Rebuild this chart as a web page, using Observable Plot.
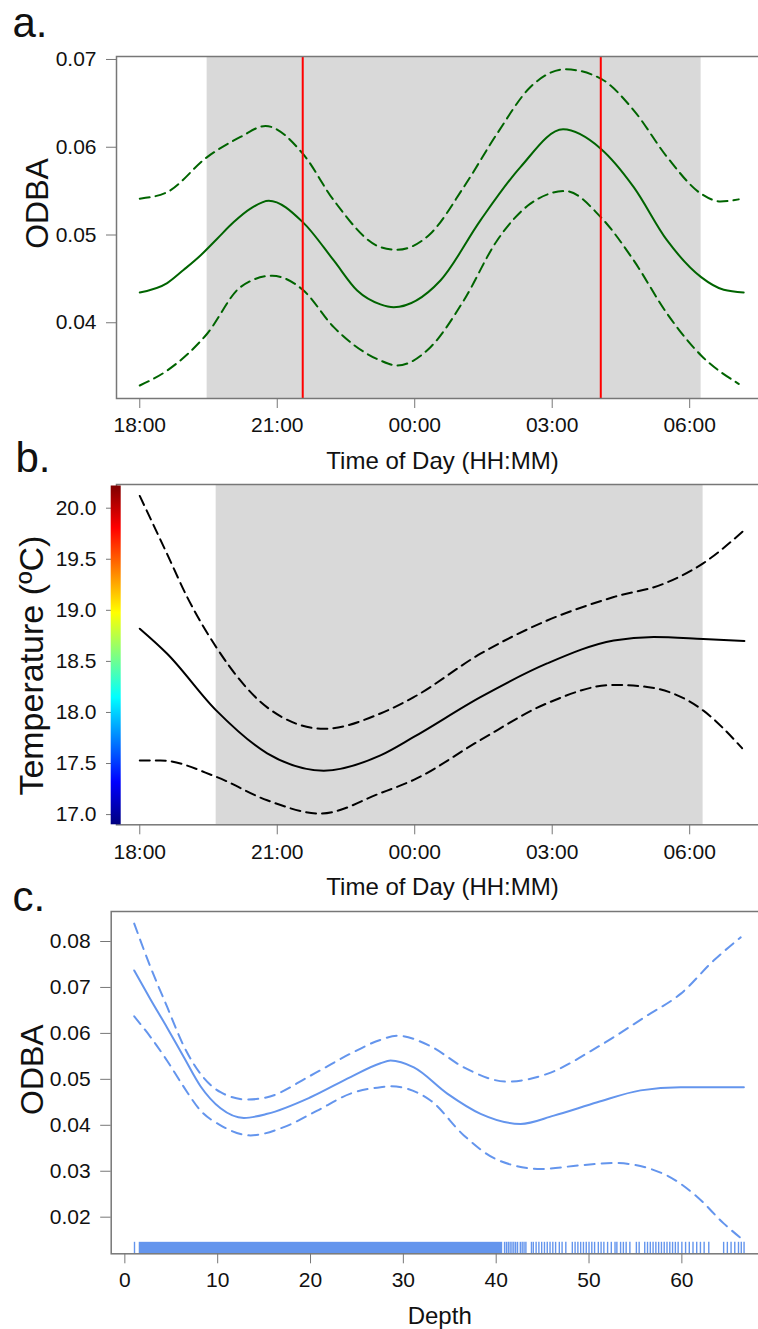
<!DOCTYPE html>
<html>
<head>
<meta charset="utf-8">
<script src="https://cdn.jsdelivr.net/npm/d3@7"></script>
<script src="https://cdn.jsdelivr.net/npm/@observablehq/plot@0.6"></script>
<style>
  html, body { margin: 0; padding: 0; background: #fff; overflow: hidden; }
  #wrap { position: relative; width: 758px; height: 1329px; overflow: hidden; }
  #wrap svg { position: absolute; left: 0; max-width: none !important; }
  svg [aria-label="x-axis tick"], svg [aria-label="y-axis tick"] { stroke: #777; }
  svg .tick line { stroke: #777; }
</style>
</head>
<body>
<div id="wrap"></div>
<script>
// ---------- shared tick labels ----------
const hourTicks = [0, 3, 6, 9, 12];                      // hours after 18:00
const hourLabels = ["18:00", "21:00", "00:00", "03:00", "06:00"];

// ---------- panel a: ODBA vs time of day ----------
const aFitHour = [0, 0.598, 0.96, 1.324, 1.689, 2.051, 2.415, 2.815, 3.557, 4.233, 4.744, 5.252, 5.542, 6.561, 7.434, 8.307, 9.238, 10.059, 10.779, 11.508, 12.25, 12.743, 13.179];
const aFitODBA = [0.04345, 0.04452, 0.04604, 0.04767, 0.04958, 0.05147, 0.053, 0.05391, 0.05147, 0.0471, 0.04368, 0.0421, 0.04178, 0.04482, 0.05167, 0.05774, 0.06204, 0.05984, 0.05546, 0.04938, 0.0452, 0.04376, 0.04345];
const aUpHour = [0, 0.598, 1.47, 2.197, 2.743, 3.557, 4.233, 5.252, 5.616, 6.343, 7.07, 7.798, 8.525, 9.289, 10.059, 10.779, 11.508, 12.25, 12.671, 13.07];
const aUpODBA = [0.05414, 0.05489, 0.05888, 0.06117, 0.06242, 0.05927, 0.05395, 0.04862, 0.04832, 0.05015, 0.05546, 0.06155, 0.06686, 0.06888, 0.06782, 0.06421, 0.05888, 0.0547, 0.05383, 0.05406];
const aLoHour = [0, 0.598, 1.47, 2.197, 2.889, 3.557, 4.233, 5.252, 5.616, 6.343, 7.07, 7.798, 8.525, 9.289, 10.059, 10.779, 11.508, 12.25, 13.07];
const aLoODBA = [0.03285, 0.03456, 0.03875, 0.04406, 0.04536, 0.04376, 0.0395, 0.0357, 0.03513, 0.03722, 0.04254, 0.04938, 0.05357, 0.05501, 0.05204, 0.0471, 0.04103, 0.03627, 0.03304];
const aNight = [1.47, 12.25];
const aMarkers = [3.556, 10.06];
const aYTicks = [0.04, 0.05, 0.06, 0.07];

// ---------- panel b: temperature vs time of day ----------
const bFitHour = [0, 0.598, 1.667, 2.78, 4.015, 5.252, 5.979, 7.434, 8.889, 10.343, 11.215, 12.293, 13.194];
const bFitTemp = [18.82, 18.575, 18.02, 17.60, 17.43, 17.58, 17.76, 18.15, 18.48, 18.705, 18.74, 18.72, 18.70];
const bUpHour = [0, 0.598, 1.034, 1.667, 2.78, 4.015, 5.252, 5.979, 7.434, 8.889, 10.343, 11.434, 12.293, 13.179];
const bUpTemp = [20.12, 19.55, 19.13, 18.64, 18.05, 17.84, 17.99, 18.15, 18.575, 18.90, 19.13, 19.26, 19.46, 19.78];
const bLoHour = [0, 0.452, 1.667, 2.78, 3.943, 5.252, 5.979, 7.434, 8.889, 10.343, 11.071, 12.293, 13.144];
const bLoTemp = [17.53, 17.53, 17.37, 17.14, 17.01, 17.21, 17.34, 17.73, 18.09, 18.27, 18.25, 18.02, 17.65];
const bNight = [1.667, 12.293];
const bYTicks = [17.0, 17.5, 18.0, 18.5, 19.0, 19.5, 20.0];
const jetStops = [[0, "#00007F"], [0.125, "#0000FF"], [0.375, "#00FFFF"], [0.625, "#FFFF00"], [0.875, "#FF0000"], [1, "#7F0000"]];

// ---------- panel c: ODBA vs depth ----------
const cFitDepth = [1.01, 2.77, 4.57, 6.36, 8.15, 10.31, 12.82, 15.34, 20.0, 24.31, 27.54, 28.62, 31.13, 34.73, 38.32, 42.63, 46.21, 50.89, 55.55, 59.86, 64.17, 66.68];
const cFitODBA = [0.0737, 0.0674, 0.0612, 0.0548, 0.0485, 0.0437, 0.0416, 0.0425, 0.0461, 0.0505, 0.0535, 0.0541, 0.0526, 0.0469, 0.0425, 0.0403, 0.0421, 0.0450, 0.0476, 0.0483, 0.0483, 0.0483];
const cUpDepth = [1.01, 2.77, 4.57, 6.36, 8.15, 10.31, 13.19, 15.34, 20.0, 24.31, 27.54, 29.34, 32.93, 36.52, 41.19, 45.5, 50.89, 56.27, 59.86, 63.45, 66.33];
const cUpODBA = [0.0839, 0.0744, 0.0657, 0.0572, 0.0512, 0.0472, 0.0456, 0.0461, 0.0508, 0.0556, 0.0586, 0.0595, 0.0572, 0.0526, 0.0495, 0.0512, 0.0570, 0.0639, 0.0686, 0.0759, 0.0809];
const cLoDepth = [1.01, 2.77, 4.57, 6.36, 8.15, 10.31, 13.54, 17.13, 20.73, 24.31, 27.54, 28.62, 32.93, 36.52, 40.12, 44.78, 49.09, 52.68, 58.06, 61.66, 64.53, 66.68];
const cLoODBA = [0.0637, 0.0592, 0.0540, 0.0483, 0.0432, 0.0400, 0.0378, 0.0396, 0.0432, 0.0469, 0.0483, 0.0485, 0.0454, 0.0378, 0.0325, 0.0305, 0.0313, 0.0318, 0.0294, 0.0244, 0.0186, 0.0149];
const cRugDense = [1.55, 40.7];
const cRugTicks = [1.04, 40.9, 41.1, 41.3, 41.5, 41.7, 41.9, 42.1, 42.3, 42.6, 42.8, 43.0, 43.2, 43.8, 44.0, 44.3, 44.6, 44.9, 45.2, 45.5, 45.8, 46.1, 46.4, 46.8, 47.1, 47.5, 48.2, 48.5, 48.8, 49.1, 49.4, 49.7, 50.0, 50.3, 50.6, 51.0, 51.3, 51.6, 52.0, 52.4, 52.8, 53.0, 53.4, 53.7, 54.0, 54.4, 55.1, 55.4, 56.0, 56.3, 56.6, 56.9, 57.2, 57.5, 57.8, 58.1, 58.4, 58.7, 59.0, 59.3, 59.6, 60.0, 60.4, 60.8, 61.2, 61.6, 62.0, 62.4, 62.9, 64.5, 64.9, 65.3, 65.7, 66.1, 66.4, 66.7];
const cXTicks = [0, 10, 20, 30, 40, 50, 60];
const cYTicks = [0.02, 0.03, 0.04, 0.05, 0.06, 0.07, 0.08];

// ---------- helpers ----------
const FONT = "'Liberation Sans', Arial, Helvetica, sans-serif";
const zip = (xs, ys) => xs.map((x, i) => ({x, y: ys[i]}));
const hourFmt = d => hourLabels[hourTicks.indexOf(d)];
const baseStyle = {fontFamily: FONT, fontSize: "21px", background: "transparent", color: "#111", overflow: "visible", maxWidth: "none"};
const FRAME = "#777";

function curveMarks(fit, up, lo, color, dash) {
  const opts = {x: "x", y: "y", stroke: color, strokeWidth: 2, curve: "monotone-x"};
  return [
    Plot.line(up, {...opts, strokeDasharray: dash}),
    Plot.line(lo, {...opts, strokeDasharray: dash}),
    Plot.line(fit, opts)
  ];
}
function letter(txt, dx, dy) {
  return Plot.text([txt], {text: d => d, frameAnchor: "top-left", textAnchor: "start", lineAnchor: "middle", dx, dy, fontSize: 42, fill: "#111"});
}
function xLabel(txt) {
  return Plot.text([txt], {text: d => d, frameAnchor: "bottom", textAnchor: "middle", lineAnchor: "middle", dy: 63, fontSize: 24, fill: "#111"});
}
function yLabel(txt, size, dx, dy) {
  return Plot.text([txt], {text: d => d, frameAnchor: "left", rotate: -90, textAnchor: "middle", lineAnchor: "middle", dx, dy, fontSize: size, fill: "#111"});
}

const wrap = document.getElementById("wrap");
function place(svg, top) { svg.style.top = top + "px"; wrap.appendChild(svg); }

// ---------- panel a ----------
const plotA = Plot.plot({
  width: 770, height: 480,
  marginLeft: 116, marginRight: 2, marginTop: 56, marginBottom: 82,
  style: baseStyle,
  x: {domain: [-0.508, 13.72], ticks: hourTicks, tickFormat: hourFmt, tickSize: 10, tickPadding: 9, label: null},
  y: {domain: [0.03137, 0.07034], ticks: aYTicks, tickFormat: d3.format(".2f"), tickSize: 10, tickPadding: 10, label: null},
  marks: [
    Plot.rect([aNight], {x1: d => d[0], x2: d => d[1], fill: "#D9D9D9"}),
    ...curveMarks(zip(aFitHour, aFitODBA), zip(aUpHour, aUpODBA), zip(aLoHour, aLoODBA), "#006400", "10,6"),
    Plot.ruleX(aMarkers, {x: d => d, stroke: "#FF0000", strokeWidth: 2}),
    Plot.frame({stroke: FRAME, strokeWidth: 1.5}),
    letter("a.", -104, -33.4),
    xLabel("Time of Day (HH:MM)"),
    yLabel("ODBA", 32, -79, -24)
  ]
});
place(plotA, 0);

// ---------- panel b ----------
const bYDomain = [16.90, 20.232];
const colorbar = (index, scales, values, dims) => {
  const g = d3.create("svg:g");
  const grad = g.append("defs").append("linearGradient")
    .attr("id", "jetGrad").attr("x1", 0).attr("y1", 1).attr("x2", 0).attr("y2", 0);
  jetStops.forEach(([o, c]) => grad.append("stop").attr("offset", o).attr("stop-color", c));
  const top = dims.marginTop + 1.5, bottom = dims.height - dims.marginBottom;
  g.append("rect")
    .attr("x", dims.marginLeft - 5.3).attr("width", 10)
    .attr("y", top).attr("height", bottom - top)
    .attr("fill", "url(#jetGrad)");
  return g.node();
};
const plotB = Plot.plot({
  width: 770, height: 480,
  marginLeft: 116, marginRight: 2, marginTop: 64, marginBottom: 75.7,
  style: baseStyle,
  x: {domain: [-0.508, 13.72], ticks: hourTicks, tickFormat: hourFmt, tickSize: 10, tickPadding: 9, label: null},
  y: {domain: bYDomain, ticks: bYTicks, tickFormat: d3.format(".1f"), tickSize: 10, tickPadding: 10, label: null},
  marks: [
    Plot.rect([bNight], {x1: d => d[0], x2: d => d[1], fill: "#D9D9D9"}),
    ...curveMarks(zip(bFitHour, bFitTemp), zip(bUpHour, bUpTemp), zip(bLoHour, bLoTemp), "#000000", "10,6"),
    Plot.frame({stroke: FRAME, strokeWidth: 1.5}),
    colorbar,
    letter("b.", -101, -26.4),
    xLabel("Time of Day (HH:MM)"),
    yLabel("Temperature (ºC)", 34, -84, 11)
  ]
});
place(plotB, 420);

// ---------- panel c ----------
const cYDomain = [0.01203, 0.08653];
const rugTop = cYDomain[0] + 0.0025;
const plotC = Plot.plot({
  width: 770, height: 469,
  marginLeft: 110.7, marginRight: 2.3, marginTop: 51, marginBottom: 75.7,
  style: baseStyle,
  x: {domain: [-1.47, 69.3], ticks: cXTicks, tickFormat: d => String(d), tickSize: 10, tickPadding: 8.5, label: null},
  y: {domain: cYDomain, ticks: cYTicks, tickFormat: d3.format(".2f"), tickSize: 10.5, tickPadding: 10, label: null},
  marks: [
    ...curveMarks(zip(cFitDepth, cFitODBA), zip(cUpDepth, cUpODBA), zip(cLoDepth, cLoODBA), "#6495ED", "10,7"),
    Plot.rect([cRugDense], {x1: d => d[0], x2: d => d[1], y1: cYDomain[0], y2: rugTop, fill: "#6495ED"}),
    Plot.ruleX(cRugTicks, {x: d => d, y1: cYDomain[0], y2: rugTop, stroke: "#6495ED", strokeWidth: 1.4}),
    Plot.frame({stroke: FRAME, strokeWidth: 1.5}),
    letter("c.", -98.7, -14.4),
    xLabel("Depth"),
    yLabel("ODBA", 32, -78.7, -13)
  ]
});
place(plotC, 860);
</script>
</body>
</html>
